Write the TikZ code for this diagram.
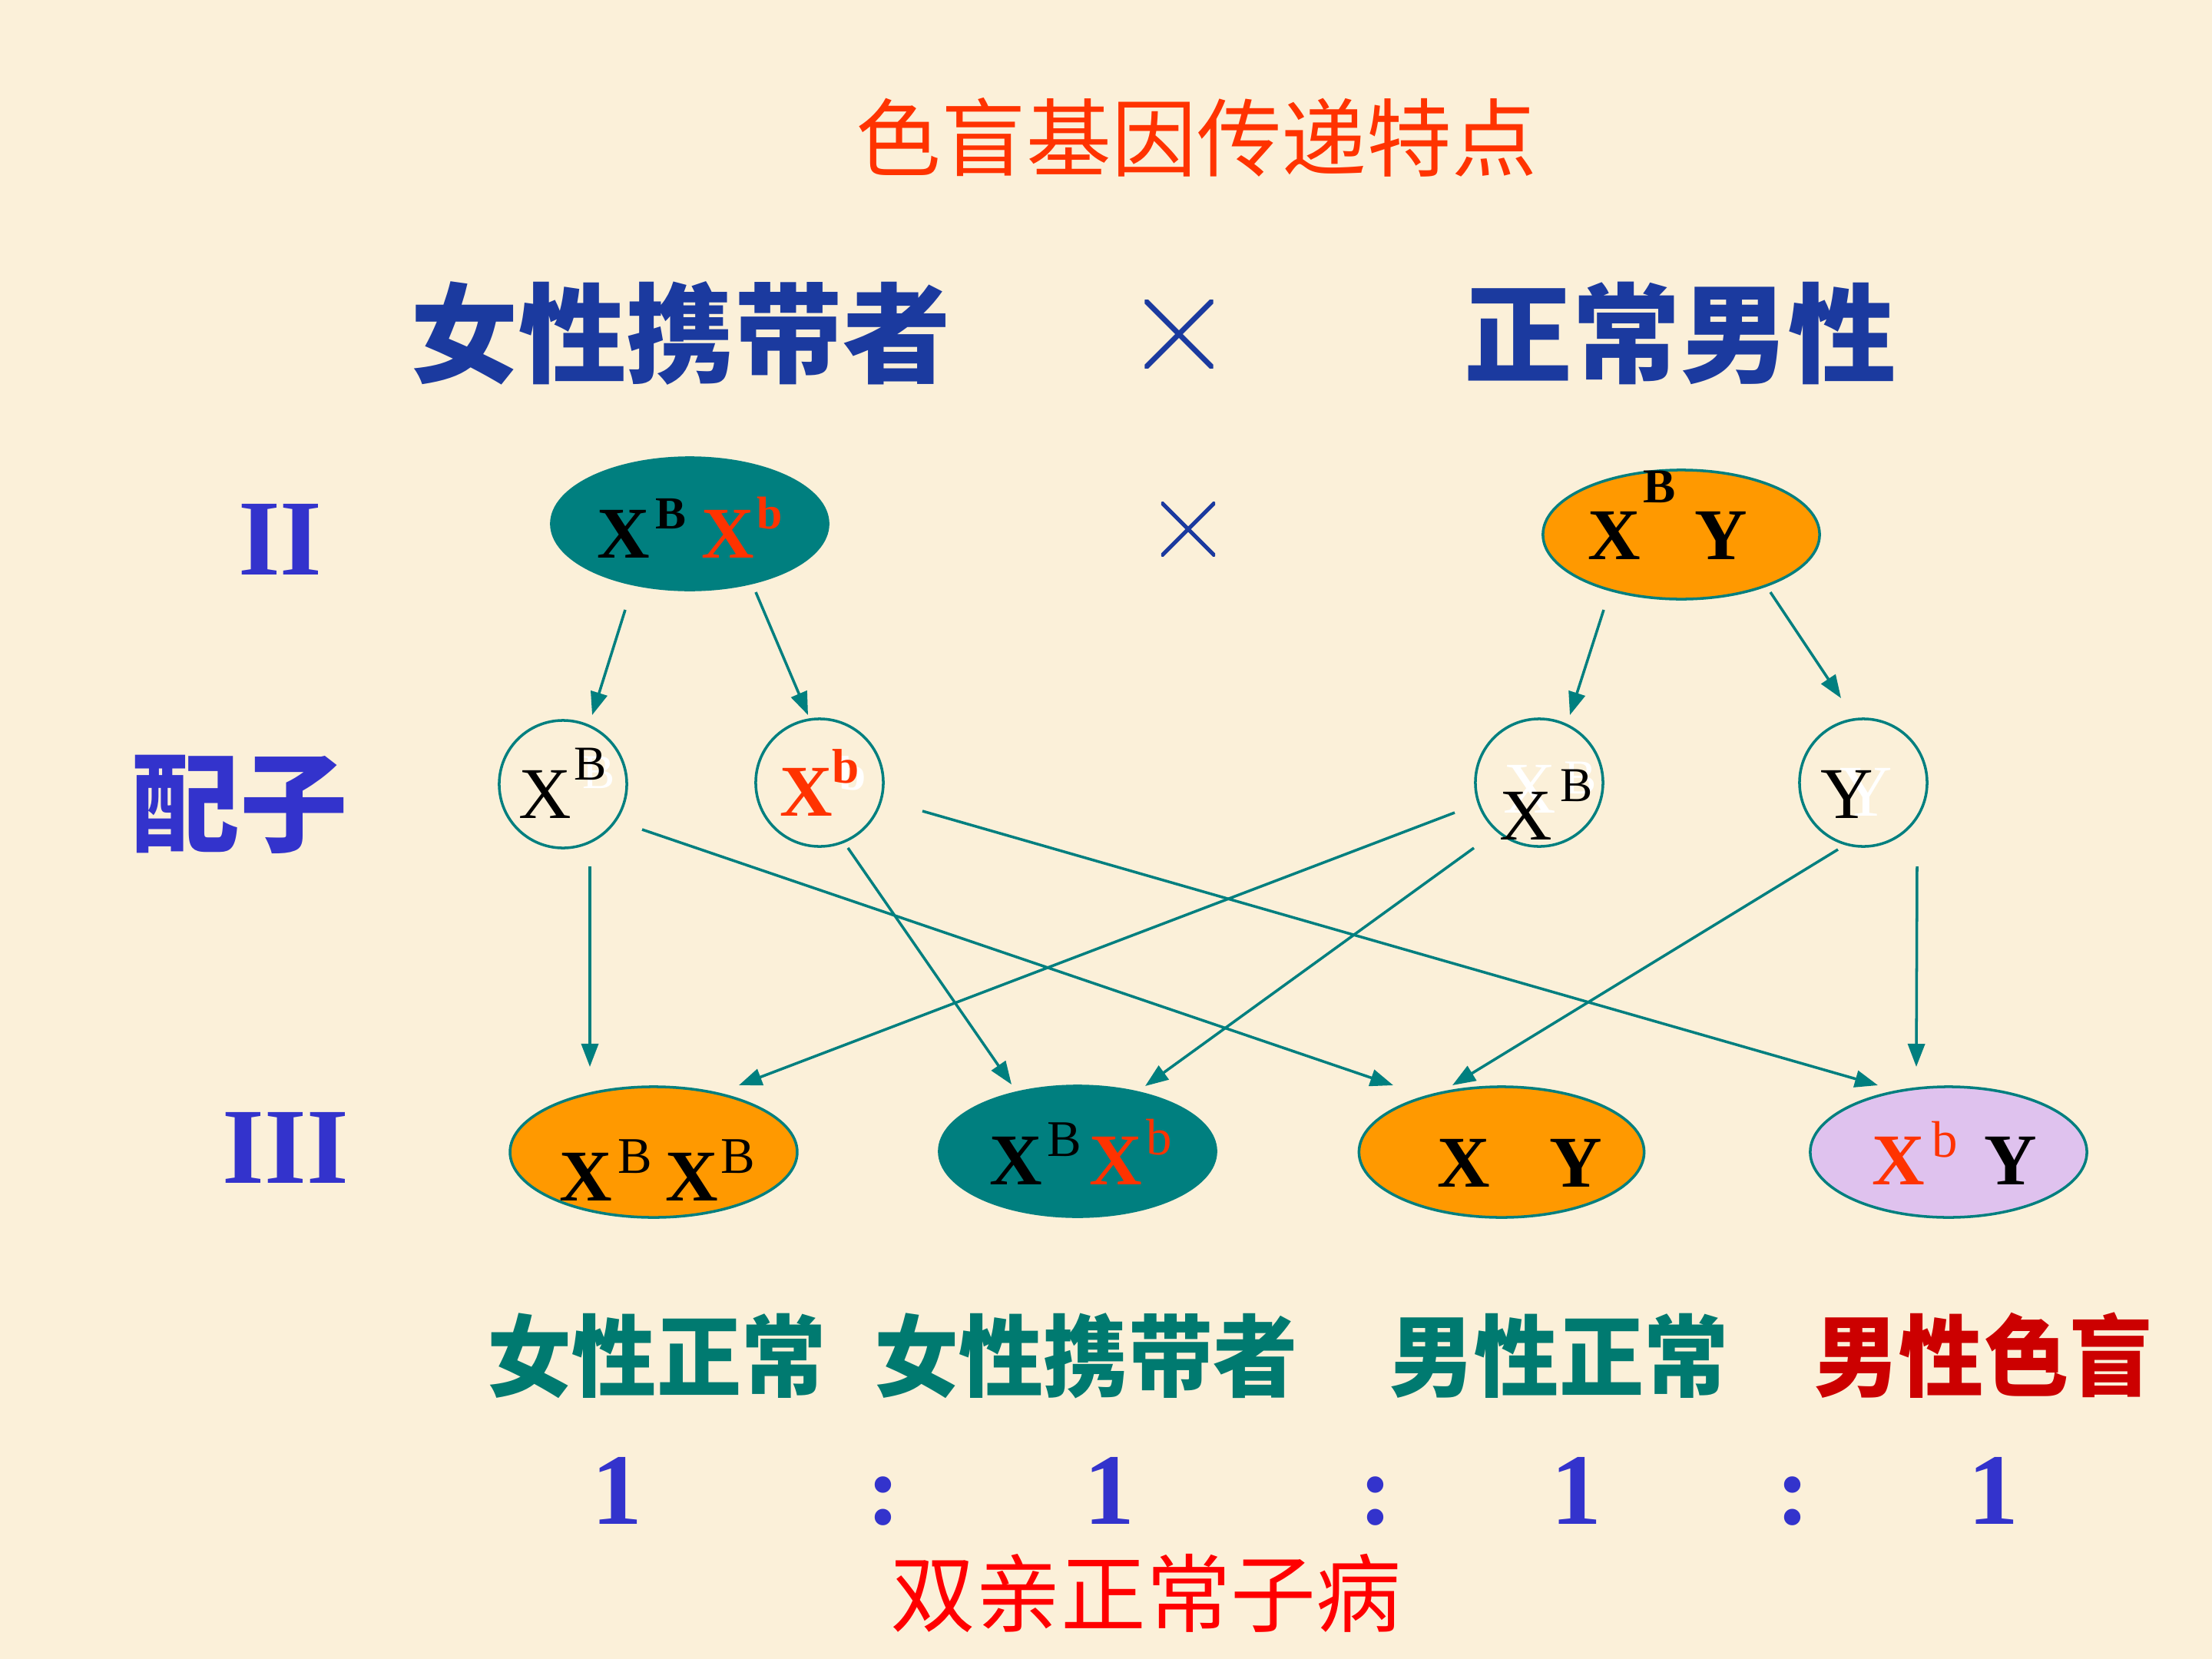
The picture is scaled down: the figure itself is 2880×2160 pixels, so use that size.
\documentclass[tikz,border=0pt]{standalone}
\usepackage{fontspec}
\setmainfont{Liberation Serif}
\newfontfamily\cjk{Noto Sans CJK SC}
\usetikzlibrary{arrows.meta,calc,shapes.geometric}
\definecolor{bg}{HTML}{FBF0D9}
\definecolor{teal0}{HTML}{007F7F}
\definecolor{orng}{HTML}{FF9900}
\definecolor{lav}{HTML}{DFC2EE}
\definecolor{xred}{HTML}{FF3300}
\definecolor{headblue}{HTML}{1B3A9F}
\definecolor{rowblue}{HTML}{3333CC}
\definecolor{lteal}{HTML}{007A70}
\definecolor{dred}{HTML}{CC0000}
\definecolor{pured}{HTML}{FF0000}
\newcommand\fsz[1]{\fontsize{#1pt}{#1pt}\selectfont}
\newcommand\upsc[3]{\raisebox{#1}{\fsz{#2}#3}}
\newcommand\dropby[2]{\raisebox{-#1}[0pt][0pt]{#2}}
\tikzset{
  crossmark/.style={inner sep=0pt, path picture={\draw[headblue, line width=#1]
    (path picture bounding box.north west) -- (path picture bounding box.south east)
    (path picture bounding box.north east) -- (path picture bounding box.south west);}},
  parent/.style={ellipse, inner sep=0pt, minimum width=3.6cm, minimum height=1.72cm, line width=1pt, draw=teal0},
  child/.style={ellipse, inner sep=0pt, minimum width=3.6cm, minimum height=1.7cm, line width=1pt, draw=teal0},
  gamete/.style={circle, inner sep=0pt, minimum size=1.66cm, line width=1pt, draw=teal0},
  ghost/.style={anchor=base west, inner sep=0pt, text=white},
  arr/.style={draw=teal0, line width=1pt, -{Triangle[length=0.3cm,width=0.22cm]}},
  cjklabel/.style={font=\cjk\bfseries\fsz{33}},
  ratio/.style={anchor=base, inner sep=0pt, text=rowblue, font=\bfseries\fsz{37.5}},
  colon/.style={anchor=base, inner sep=0pt, text=rowblue, font=\bfseries\fsz{37.5}},
  rowlab/.style={text=rowblue, font=\bfseries\fsz{40}, inner sep=0pt}
}
\begin{document}
\begin{tikzpicture}[x=0.01cm,y=-0.01cm]
\fill[bg] (0,0) rectangle (2880,2160);
\useasboundingbox (0,0) rectangle (2880,2160);

% title and headings
\node[font=\cjk\fsz{31.5}, text=xred] (title) at (1558,179) {色盲基因传递特点};
\node[font=\cjk\bfseries\fsz{40}, text=headblue] (hF) at (886,434) {女性携带者};
\node[crossmark=2pt, minimum size=0.89cm] (xBig) at (1535,435) {};
\node[font=\cjk\bfseries\fsz{40}, text=headblue] (hM) at (2188,434) {正常男性};

% row labels
\node[rowlab] (rII) at (365,702) {II};
\node[rowlab, font=\cjk\bfseries\fsz{40}] (rG) at (312,1047) {配子};
\node[rowlab] (rIII) at (372,1494) {III};

% parents
\node[parent, fill=teal0] (pL) at (898,682)
  {\dropby{0.44cm}{\bfseries\fsz{27}X\kern2pt\upsc{10.8pt}{17}{B}\hspace{5.7pt}\textcolor{xred}{X\kern1pt\upsc{10.8pt}{17}{b}}}};
\node[crossmark=1.5pt, minimum size=0.70cm] (xSmall) at (1547,689) {};
\node[parent, fill=orng, minimum height=1.68cm] (pR) at (2189,696)
  {\dropby{0.32cm}{\bfseries\fsz{27}X\kern1pt\upsc{20.8pt}{18}{B}\hspace{7pt}Y}\kern0.36cm};

% ghost (white) letters behind the gametes
\node[ghost, font=\fsz{18}] (ghA) at (758,1026) {B};
\node[ghost, font=\bfseries\fsz{18}] (ghB) at (1092,1028) {b};
\node[ghost, font=\fsz{27}] (ghC) at (1957,1058) {X\kern3pt\upsc{7pt}{18}{B}};
\node[ghost, font=\fsz{27}] (ghD) at (2395,1062) {Y};

% gametes
\node[gamete] (gA) at (733,1021) {\dropby{0.44cm}{\fsz{27}X\kern1pt\upsc{14pt}{18}{B}}};
\node[gamete] (gB) at (1067,1019) {\dropby{0.43cm}{\bfseries\color{xred}\fsz{27}X\upsc{12pt}{18}{b}}};
\node[gamete] (gC) at (2004,1019) {\kern0.18cm\dropby{0.74cm}{\fsz{27}X\kern3pt\upsc{14pt}{18}{B}}};
\node[gamete] (gD) at (2426,1019) {\dropby{0.46cm}{\fsz{27}Y}\kern0.42cm};

% offspring
\node[child, fill=orng] (oA) at (851,1500)
  {\kern0.1cm\dropby{0.63cm}{\bfseries\fsz{27}X\kern2pt\upsc{10pt}{19}{\mdseries B}\hspace{5pt}X\kern1pt\upsc{10pt}{19}{\mdseries B}}};
\node[child, fill=teal0] (oB) at (1403,1499)
  {\kern0.08cm\dropby{0.43cm}{\bfseries\fsz{27}X\kern2pt\upsc{10.5pt}{19}{\mdseries B}\hspace{3pt}\textcolor{xred}{X\kern1.5pt\upsc{11pt}{19}{\mdseries b}}}};
\node[child, fill=orng] (oC) at (1955,1500)
  {\kern0.48cm\dropby{0.45cm}{\bfseries\fsz{27}X\hspace{22pt}Y}};
\node[child, fill=lav] (oD) at (2537,1500)
  {\kern0.16cm\dropby{0.42cm}{\bfseries\fsz{27}\textcolor{xred}{X\kern2.5pt\upsc{10pt}{19}{\mdseries b}}\hspace{10pt}Y}};

% arrows parents -> gametes
\draw[arr] ($(pL)+(-84,112)$) -- ($(gA)+(38,-90)$);
\draw[arr] ($(pL)+(86,89)$) -- ($(gB)+(-15,-88)$);
\draw[arr] ($(pR)+(-101,98)$) -- ($(gC)+(40,-88)$);
\draw[arr] ($(pR)+(116,75)$) -- ($(gD)+(-29,-110)$);

% arrows gametes -> offspring
\draw[arr] ($(gA)+(35,107)$) -- ($(oA)+(-83,-111)$);
\draw[arr] ($(gA)+(103,59)$) -- ($(oC)+(-141,-87)$);
\draw[arr] ($(gB)+(37,85)$) -- ($(oB)+(-86,-87)$);
\draw[arr] ($(gB)+(134,37)$) -- ($(oD)+(-92,-87)$);
\draw[arr] ($(gC)+(-110,39)$) -- ($(oA)+(111,-87)$);
\draw[arr] ($(gC)+(-85,85)$) -- ($(oB)+(88,-85)$);
\draw[arr] ($(gD)+(-33,87)$) -- ($(oC)+(-64,-87)$);
\draw[arr] ($(gD)+(70,109)$) -- ($(oD)+(-42,-111)$);

% phenotype labels
\node[cjklabel, text=lteal] (lA) at (855,1765) {\scalebox{0.95}[1]{女性正常}};
\node[cjklabel, text=lteal] (lB) at (1414,1765) {\scalebox{0.95}[1]{女性携带者}};
\node[cjklabel, text=lteal] (lC) at (2030,1765) {\scalebox{0.95}[1]{男性正常}};
\node[cjklabel, text=dred] (lD) at (2583,1765) {\scalebox{0.95}[1]{男性色盲}};

% ratio
\node[ratio] (n1) at (803,1984) {1};
\node[colon] (c1) at (1150,1984) {:};
\node[ratio] (n2) at (1444,1984) {1};
\node[colon] (c2) at (1791,1984) {:};
\node[ratio] (n3) at (2052,1984) {1};
\node[colon] (c3) at (2334,1984) {:};
\node[ratio] (n4) at (2595,1984) {1};

\node[font=\cjk\fsz{31.5}, text=pured] (note) at (1492,2074) {双亲正常子病};
\end{tikzpicture}
\end{document}
